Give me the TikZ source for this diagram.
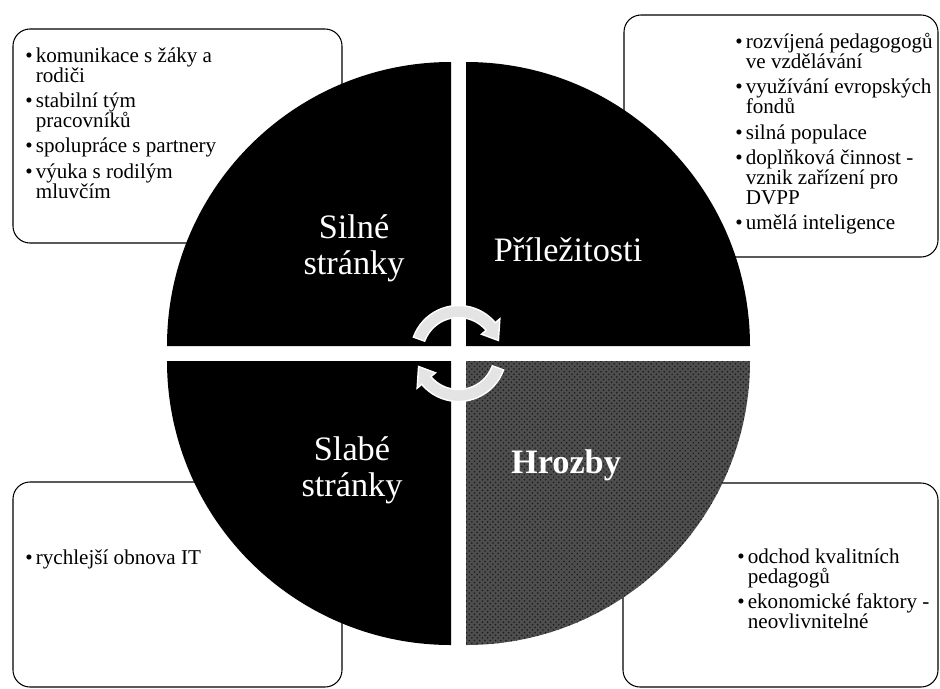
\documentclass[tikz,border=0pt]{standalone}
\usepackage{fontspec}
\setmainfont{Liberation Serif}
\usepackage{xcolor}
\usetikzlibrary{patterns}
\definecolor{ink}{HTML}{000000}
\definecolor{threat}{HTML}{4E4E4E}
\definecolor{speck}{HTML}{1A1A1A}
\definecolor{loop}{HTML}{E4E4E4}
\tikzset{
  infobox/.style={draw=ink, line width=0.6pt, rounded corners=0.34cm},
  quad/.style={fill=ink},
  quadlabel/.style={text=white, align=center, inner sep=0pt,
                    font=\fontsize{19.5}{20.5}\selectfont},
  itemtext/.style={anchor=north west, inner sep=0pt, align=left, text=ink,
                   font=\fontsize{12}{11.4}\selectfont},
  cyclearrow/.style={fill=loop, draw=white, line width=0.8pt}
}
\newcommand{\bul}{\makebox[0.21cm][l]{\textbullet}}
\newcommand{\contline}{\hspace*{0.21cm}}

\begin{document}
\begin{tikzpicture}[x=1cm,y=1cm]
    \fill[white] (-9.17,-6.69) rectangle (9.63,7.07);
    \useasboundingbox (-9.17,-6.69) rectangle (9.63,7.07);

    % Boxes behind the circle
    \draw[infobox] (-8.91,2.21) rectangle (-2.33,6.49);
    \draw[infobox] (3.31,1.93) rectangle (9.59,6.77);
    \draw[infobox] (-8.91,-6.67) rectangle (-2.33,-2.57);
    \draw[infobox] (3.29,-6.67) rectangle (9.59,-2.59);

    % Black quadrants
    \foreach \sx/\sy/\ang in {-1/1/90, 1/1/0, -1/-1/180}
      \fill[quad] (\sx*0.15,\sy*0.15) -- ++(\ang:5.68)
        arc[start angle=\ang, end angle=\ang+90, radius=5.68] -- cycle;

    % Textured quadrant
    \fill[threat] (0.15,-0.15) -- ++(270:5.68)
      arc[start angle=270, end angle=360, radius=5.68] -- cycle;
    \fill[pattern=crosshatch dots, pattern color=speck] (0.15,-0.15) -- ++(270:5.68)
      arc[start angle=270, end angle=360, radius=5.68] -- cycle;

    % Quadrant labels
    \node[quadlabel] (strengths) at (-2.09,2.11) {Silné\\stránky};
    \node[quadlabel] (opportunities) at (2.19,2.07) {Příležitosti};
    \node[quadlabel] (weaknesses) at (-2.13,-2.33) {Slabé\\stránky};
    \node[quadlabel, font=\fontsize{19.5}{20.5}\selectfont\bfseries] (threats) at (2.15,-2.23) {Hrozby};

    % Cycle arrows in the middle
    \foreach \rot in {0,180} {
      \begin{scope}[rotate=\rot]
        \filldraw[cyclearrow] (160:0.96) arc[start angle=160, end angle=40, radius=0.96]
          -- (40:1.08) -- (18:0.84) -- (40:0.60) -- (40:0.72)
          arc[start angle=40, end angle=160, radius=0.72] -- cycle;
      \end{scope}
    }

    % Box texts
    \node[itemtext] (strengthslist) at (-8.67,6.13) {\bul komunikace s žáky a\\
      \contline rodiči\\[3pt]
      \bul stabilní tým\\
      \contline pracovníků\\[3pt]
      \bul spolupráce s partnery\\[3pt]
      \bul výuka s rodilým\\
      \contline mluvčím};
    \node[itemtext] (opportunitieslist) at (5.53,6.41) {\bul rozvíjená pedagogogů\\
      \contline ve vzdělávání\\[3pt]
      \bul využívání evropských\\
      \contline fondů\\[3pt]
      \bul silná populace\\[3pt]
      \bul doplňková činnost -\\
      \contline vznik zařízení pro\\
      \contline DVPP\\[3pt]
      \bul umělá inteligence};
    \node[itemtext] (weaknesseslist) at (-8.67,-3.91) {\bul rychlejší obnova IT};
    \node[itemtext] (threatslist) at (5.57,-3.89) {\bul odchod kvalitních\\
      \contline pedagogů\\[3pt]
      \bul ekonomické faktory -\\
      \contline neovlivnitelné};
\end{tikzpicture}
\end{document}
